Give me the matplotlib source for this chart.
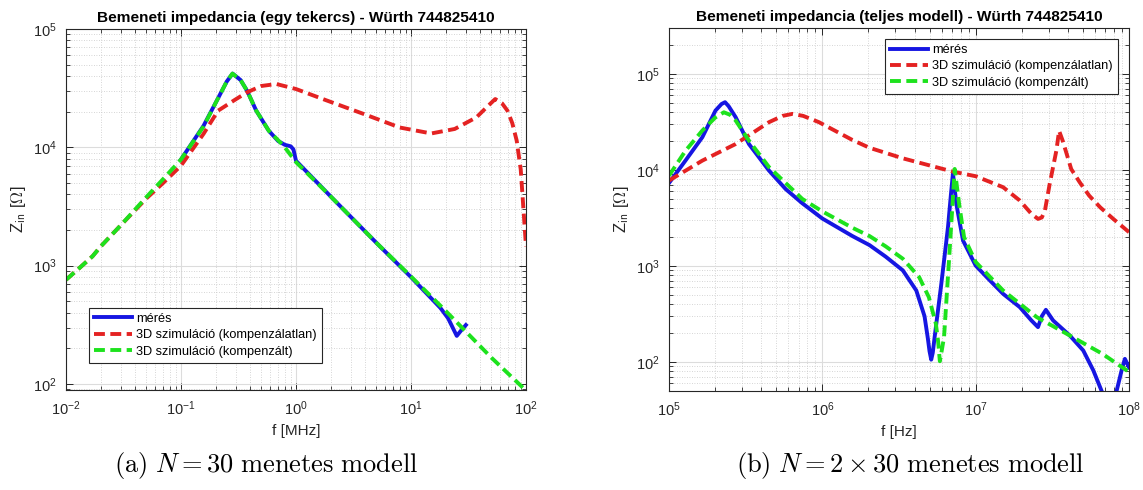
import numpy as np
import matplotlib
matplotlib.use("Agg")
import matplotlib.pyplot as plt
from matplotlib.ticker import LogLocator, NullFormatter

plt.rcParams['font.family'] = ['Liberation Sans', 'DejaVu Sans']
plt.rcParams['mathtext.fontset'] = 'custom'
plt.rcParams['mathtext.rm'] = 'Liberation Sans'
plt.rcParams['mathtext.it'] = 'Liberation Sans:italic'
plt.rcParams['mathtext.bf'] = 'Liberation Sans:bold'
plt.rcParams['mathtext.sf'] = 'Liberation Sans'

# (a) egy tekercs, f in MHz
f_meres_a = [0.1, 0.157, 0.21, 0.25, 0.281, 0.33, 0.376, 0.45, 0.58, 0.7, 0.8, 0.9, 0.95,
             1.0, 2.0, 5.0, 10.0, 18.0, 21.0, 25.0, 27.0, 30.0]
z_meres_a = [7900, 15200, 26000, 36000, 42000, 37000, 30000, 20500, 13800, 11300, 10500,
             10200, 9600, 7700, 3850, 1560, 800, 440, 360, 255, 280, 315]

f_unc_a = [0.01, 0.013, 0.017, 0.02, 0.03, 0.05, 0.07, 0.1, 0.157, 0.21, 0.3, 0.376, 0.5,
           0.675, 1.0, 1.87, 3.9, 8.0, 15.0, 24.0, 37.0, 47.0, 54.0, 62.0, 69.0, 76.0,
           83.0, 90.0, 96.0, 100.0]
z_unc_a = [760, 950, 1200, 1450, 2200, 3700, 5000, 7000, 13000, 20400, 25500, 29200, 33000,
           34300, 31100, 24800, 19100, 14700, 13100, 14300, 17900, 22500, 25600, 23500,
           20400, 16000, 11400, 6500, 2600, 1450]

f_komp_a = [0.01, 0.013, 0.017, 0.02, 0.03, 0.05, 0.07, 0.1, 0.157, 0.21, 0.25, 0.28, 0.33,
            0.376, 0.45, 0.58, 0.78, 1.0, 2.0, 5.0, 10.0, 20.0, 50.0, 100.0]
z_komp_a = [760, 950, 1200, 1450, 2200, 3800, 5400, 7900, 15000, 26000, 36000, 42000, 37000,
            30000, 20500, 13800, 10300, 7500, 3850, 1560, 810, 415, 167, 88]

# (b) teljes modell, f in Hz
f_meres_b = [1e5, 1.28e5, 1.65e5, 2.01e5, 2.2e5, 2.32e5, 2.45e5, 2.72e5, 3.32e5, 4.49e5,
             5.77e5, 7.4e5, 1e6, 1.57e6, 2.03e6, 2.59e6, 3.35e6, 4.1e6, 4.64e6, 4.88e6,
             5.0e6, 5.13e6, 5.25e6, 5.4e6, 5.97e6, 6.6e6, 6.9e6, 7.11e6, 7.25e6, 7.48e6,
             8.27e6, 1e7, 1.24e7, 1.51e7, 1.94e7, 2.31e7, 2.55e7, 2.7e7, 2.87e7, 3.2e7,
             4.11e7, 5.03e7, 5.85e7, 6.63e7, 7.4e7, 8.3e7, 9.0e7, 9.4e7, 1e8]
z_meres_b = [7300, 12500, 21900, 41500, 48500, 50700, 46000, 35400, 18600, 9840,
             6310, 4500, 3120, 2050, 1650, 1250, 900, 556, 300, 175,
             130, 106, 125, 182, 653, 2540, 5600, 9200, 7000, 4430,
             1840, 1010, 706, 513, 373, 271, 231, 300, 350, 271,
             189, 132, 82, 50, 30, 50, 85, 108, 88]

f_unc_b = [1e5, 1.65e5, 2.72e5, 4.49e5, 5.5e5, 6.38e5, 7.5e5, 9.5e5, 1.57e6, 2.03e6,
           3.35e6, 5.75e6, 7.1e6, 1e7, 1.51e7, 1.94e7, 2.31e7, 2.55e7, 2.7e7, 2.83e7,
           3.04e7, 3.36e7, 3.5e7, 3.7e7, 4.2e7, 4.78e7, 5.5e7, 6.5e7, 7.9e7, 1e8]
z_unc_b = [7750, 12500, 18600, 31400, 36500, 38300, 36500, 31400, 20500, 17000,
           13200, 10500, 9600, 8600, 6610, 4800, 3490, 3090, 3200, 3780,
           7160, 15900, 25500, 20000, 10200, 7400, 5400, 4070, 3090, 2250]

f_komp_b = [1e5, 1.28e5, 1.65e5, 2.0e5, 2.28e5, 2.5e5, 2.72e5, 3.32e5, 4.49e5, 7.4e5,
            1e6, 1.57e6, 2.03e6, 2.59e6, 3.35e6, 4.28e6, 4.95e6, 5.5e6, 5.7e6, 5.84e6,
            6.0e6, 6.22e6, 6.7e6, 7.0e6, 7.3e6, 7.8e6, 8.4e6, 1e7, 1.51e7, 2.5e7,
            4.11e7, 6.7e7, 1e8]
z_komp_b = [8700, 15800, 25700, 35000, 39800, 37500, 32700, 20200, 10700, 4990,
            3700, 2500, 2050, 1600, 1190, 766, 474, 251, 160, 102,
            130, 182, 1140, 3500, 10240, 4430, 2000, 1100, 556, 294,
            189, 122, 79]

labels = ['mérés', '3D szimuláció (kompenzálatlan)', '3D szimuláció (kompenzált)']
c_blue = '#1616e2'
c_red = '#e42222'
c_green = '#1de21d'
dash = (2.8, 1.4)


def style_axes(ax):
    ax.set_xscale('log')
    ax.set_yscale('log')
    ax.xaxis.set_major_locator(LogLocator(base=10, numticks=20))
    ax.yaxis.set_major_locator(LogLocator(base=10, numticks=20))
    ax.xaxis.set_minor_locator(LogLocator(base=10, subs=np.arange(2, 10), numticks=20))
    ax.yaxis.set_minor_locator(LogLocator(base=10, subs=np.arange(2, 10), numticks=20))
    ax.xaxis.set_minor_formatter(NullFormatter())
    ax.yaxis.set_minor_formatter(NullFormatter())
    ax.grid(True, which='major', color='#dcdcdc', linewidth=0.8, linestyle='-')
    ax.grid(True, which='minor', color='#c8c8c8', linewidth=0.6, linestyle=(0, (1, 2)))
    ax.set_axisbelow(True)
    ax.tick_params(which='both', direction='in', top=True, right=True, colors='#262626',
                   labelcolor='#262626', labelsize=10.5, pad=7)
    ax.tick_params(which='major', length=5, width=0.7)
    ax.tick_params(which='minor', length=3, width=0.6)
    for s in ax.spines.values():
        s.set_color('#262626')
        s.set_linewidth(0.8)


fig = plt.figure(figsize=(11.43, 4.9), dpi=100)
ax1 = fig.add_axes([66 / 1143, 1 - 390 / 490, 460 / 1143, 361 / 490])
ax2 = fig.add_axes([669 / 1143, 1 - 391 / 490, 460 / 1143, 363 / 490])

for ax, fm, zm, fu, zu, fk, zk in [
        (ax1, f_meres_a, z_meres_a, f_unc_a, z_unc_a, f_komp_a, z_komp_a),
        (ax2, f_meres_b, z_meres_b, f_unc_b, z_unc_b, f_komp_b, z_komp_b)]:
    ax.plot(fm, zm, color=c_blue, lw=2.8, label=labels[0], solid_joinstyle='round')
    ax.plot(fu, zu, color=c_red, lw=2.8, ls='--', dashes=dash, label=labels[1])
    ax.plot(fk, zk, color=c_green, lw=2.8, ls='--', dashes=dash, label=labels[2])
    style_axes(ax)

ax1.set_xlim(1e-2, 1e2)
ax1.set_ylim(89, 1e5)
ax2.set_xlim(1e5, 1e8)
ax2.set_ylim(50, 3e5)

ax1.set_title('Bemeneti impedancia (egy tekercs) - Würth 744825410',
              fontsize=11.1, fontweight='bold', pad=5)
ax2.set_title('Bemeneti impedancia (teljes modell) - Würth 744825410',
              fontsize=11.1, fontweight='bold', pad=5)
ax1.set_xlabel('f [MHz]', fontsize=11, color='#262626', labelpad=4)
ax2.set_xlabel('f [Hz]', fontsize=11, color='#262626', labelpad=4)
for ax in (ax1, ax2):
    yl = ax.set_ylabel(r'Z$_{\mathsf{in}}$ [$\Omega$]', fontsize=12, color='#262626', labelpad=3)
    yl.set_math_fontfamily('cm')

leg_kw = dict(fontsize=9.2, handlelength=3.0, handletextpad=0.3, borderpad=0.4,
              labelspacing=0.35, borderaxespad=0, fancybox=False, edgecolor='#262626',
              framealpha=1)
leg1 = ax1.legend(loc='lower left', bbox_to_anchor=(0.05, 0.075), **leg_kw)
leg2 = ax2.legend(loc='upper right', bbox_to_anchor=(0.976, 0.97), **leg_kw)
for leg in (leg1, leg2):
    leg.get_frame().set_linewidth(0.8)

cap1 = fig.text(266 / 1143, 1 - 465 / 490, r'$\mathrm{(a)}\ N = 30\ \mathrm{menetes\ modell}$',
                ha='center', va='center', fontsize=19)
cap2 = fig.text(910 / 1143, 1 - 465 / 490,
                r'$\mathrm{(b)}\ N = 2 \times 30\ \mathrm{menetes\ modell}$',
                ha='center', va='center', fontsize=19)
for c in (cap1, cap2):
    c.set_math_fontfamily('cm')

fig.savefig('out.png', dpi=100)
